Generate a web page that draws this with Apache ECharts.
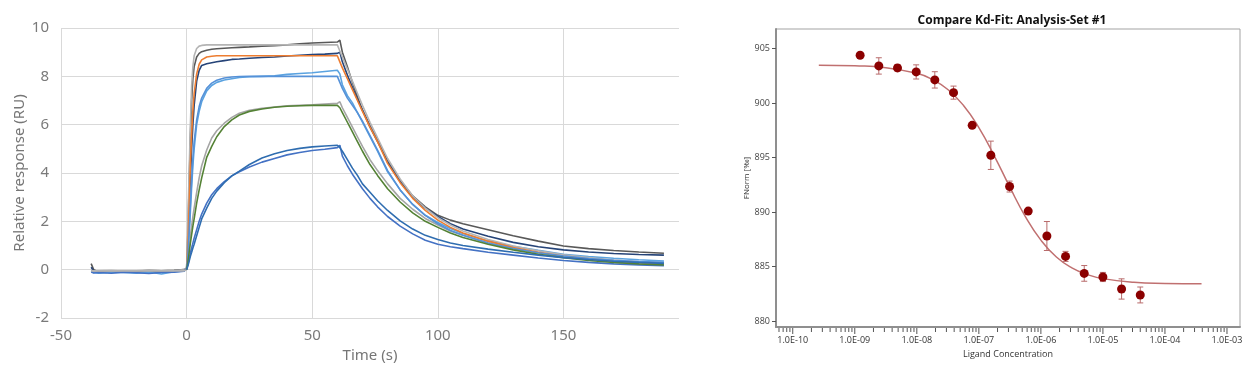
<!DOCTYPE html>
<html>
<head>
<meta charset="utf-8">
<script src="https://cdn.jsdelivr.net/npm/echarts@6/dist/echarts.min.js"></script>
<style>
html,body{margin:0;padding:0;background:#fff;}
#c{width:1251px;height:380px;}
</style>
</head>
<body>
<div id="c"></div>
<script>
// ---------- Left panel: SPR sensorgram ----------
const time = [-38,-37,-35,-30,-25,-20,-15,-10,-5,-1,
  0,0.5,1,1.5,2,2.5,3,4,5,6,8,10,12,15,18,21,25,30,35,40,45,50,55,60,
  61,62,64,66,68,70,73,76,80,85,90,95,100,105,110,120,130,140,150,160,170,180,190];
const N = null;
const darkGrayData = [0.25,0.0,-0.1,-0.08,-0.05,-0.06,-0.04,-0.05,-0.03,0.0,
  0.05,1.5,3.5,5.5,7.0,7.9,8.4,8.8,8.95,9.02,9.08,9.12,9.14,9.16,9.18,9.2,9.22,9.25,9.27,9.3,9.35,9.38,9.4,9.42,
  9.5,9.0,8.4,7.75,7.15,6.6,5.9,5.3,4.5,3.7,3.05,2.6,2.25,2.05,1.9,1.65,1.4,1.18,0.98,0.87,0.79,0.73,0.68];
const grayFitTop = [-0.05,-0.05,-0.05,-0.05,-0.05,-0.05,-0.05,-0.05,-0.05,-0.05,
  0.0,2.0,4.0,6.0,7.6,8.4,8.85,9.15,9.25,9.28,9.3,9.3,9.3,9.3,9.3,9.3,9.3,9.3,9.3,9.3,9.3,9.3,9.3,9.3,
  9.05,8.8,8.3,7.8,7.3,6.8,6.1,5.45,4.6,3.75,3.05,2.55,2.15,1.85,1.6,1.25,0.98,0.78,0.62,0.5,0.4,0.33,0.28];
const orangeFit = [N,N,N,N,N,N,N,N,N,N,
  0.0,1.0,2.6,4.4,5.6,6.6,7.3,8.1,8.5,8.68,8.8,8.83,8.85,8.85,8.85,8.85,8.85,8.85,8.85,8.85,8.85,8.85,8.85,8.85,
  8.6,8.35,7.9,7.45,7.0,6.55,5.9,5.3,4.4,3.6,2.95,2.45,2.05,1.75,1.52,1.18,0.92,0.72,0.55,0.44,0.35,0.29,0.25];
const navyData = [0.1,-0.05,-0.12,-0.1,-0.08,-0.1,-0.12,-0.08,-0.06,-0.02,
  0.05,0.8,2.2,3.8,5.0,6.0,6.8,7.8,8.25,8.45,8.52,8.56,8.6,8.65,8.7,8.72,8.75,8.78,8.8,8.84,8.87,8.9,8.92,8.95,
  9.0,8.6,8.05,7.55,7.05,6.6,5.95,5.35,4.45,3.65,3.0,2.55,2.2,1.9,1.68,1.38,1.13,0.95,0.82,0.73,0.67,0.63,0.6];
const lightBlueFit = [N,N,N,N,N,N,N,N,N,N,
  0.0,0.6,1.6,2.7,3.7,4.6,5.3,6.2,6.75,7.1,7.5,7.72,7.84,7.93,7.97,7.99,8.0,8.0,8.0,8.0,8.0,8.0,8.0,8.0,
  7.75,7.5,7.1,6.8,6.5,6.15,5.55,4.95,4.1,3.3,2.7,2.25,1.9,1.62,1.42,1.1,0.87,0.7,0.56,0.46,0.39,0.34,0.3];
const lightBlueData = [-0.05,-0.12,-0.15,-0.1,-0.12,-0.15,-0.1,-0.18,-0.08,-0.05,
  0.05,0.5,1.4,2.4,3.4,4.3,5.0,6.0,6.55,6.95,7.4,7.62,7.75,7.85,7.9,7.95,7.98,8.0,8.02,8.08,8.12,8.15,8.2,8.25,
  8.1,7.65,7.2,6.9,6.5,6.1,5.5,4.9,4.05,3.3,2.7,2.25,1.95,1.7,1.5,1.18,0.97,0.8,0.64,0.54,0.47,0.41,0.36];
const greenFit = [N,N,N,N,N,N,N,N,N,N,
  0.0,0.3,0.7,1.1,1.45,1.8,2.1,2.75,3.3,3.8,4.65,5.1,5.5,5.92,6.2,6.4,6.55,6.65,6.72,6.76,6.78,6.8,6.8,6.8,
  6.7,6.5,6.1,5.7,5.3,4.9,4.35,3.9,3.35,2.8,2.35,2.0,1.75,1.52,1.33,1.05,0.82,0.64,0.5,0.38,0.3,0.24,0.2];
const grayData = [-0.03,-0.06,-0.05,-0.04,-0.06,-0.05,-0.03,-0.05,-0.04,0.0,
  0.05,0.4,0.9,1.4,1.8,2.2,2.55,3.2,3.8,4.3,4.95,5.45,5.75,6.06,6.3,6.47,6.6,6.68,6.73,6.78,6.8,6.82,6.85,6.88,
  6.95,6.7,6.3,5.9,5.5,5.1,4.55,4.1,3.55,2.95,2.5,2.12,1.85,1.6,1.42,1.1,0.88,0.7,0.56,0.46,0.38,0.32,0.28];
const blueFit = [N,N,N,N,N,N,N,N,N,N,
  0.0,0.15,0.35,0.55,0.72,0.9,1.05,1.4,1.75,2.1,2.55,2.95,3.25,3.6,3.88,4.08,4.35,4.62,4.8,4.93,5.02,5.08,5.12,5.15,
  5.05,4.9,4.55,4.2,3.9,3.55,3.2,2.85,2.45,2.02,1.68,1.42,1.25,1.1,1.0,0.85,0.72,0.6,0.5,0.42,0.35,0.3,0.26];
const blueData = [-0.1,-0.14,-0.12,-0.15,-0.1,-0.13,-0.16,-0.12,-0.1,-0.06,
  0.05,0.2,0.45,0.7,0.9,1.1,1.3,1.65,2.0,2.3,2.75,3.1,3.35,3.64,3.88,4.05,4.25,4.45,4.6,4.75,4.85,4.93,4.98,5.05,
  5.15,4.7,4.3,3.95,3.65,3.35,2.95,2.6,2.2,1.8,1.48,1.22,1.05,0.95,0.87,0.72,0.6,0.48,0.38,0.3,0.24,0.2,0.16];
const xTicksLeft = [-50,0,50,100,150];

// ---------- Right panel: MST Kd fit ----------
const ligandConc = [1.22e-9,2.44e-9,4.88e-9,9.77e-9,1.95e-8,3.91e-8,7.81e-8,1.56e-7,3.13e-7,6.25e-7,1.25e-6,2.5e-6,5e-6,1e-5,2e-5,4e-5];
const fnorm = [904.39,903.41,903.23,902.86,902.13,900.96,897.96,895.21,892.34,890.09,887.80,885.93,884.37,884.04,882.94,882.39];
const fnormErr = [0,0.75,0.3,0.65,0.75,0.6,0,1.3,0.5,0,1.33,0.46,0.72,0.42,0.93,0.73];
const fitLogConc = [-9.58,-9,-8.5,-8,-7.75,-7.5,-7.25,-7,-6.75,-6.5,-6.25,-6,-5.75,-5.5,-5.25,-5,-4.5,-4,-3.41];
const fitFnorm = [903.48,903.42,903.25,902.73,902.17,901.25,899.80,897.75,895.14,892.28,889.59,887.42,885.87,884.87,884.26,883.89,883.56,883.45,883.41];
const yTicksRight = [880,885,890,895,900,905];
const decadeTicks = [-10,-9,-8,-7,-6,-5,-4,-3];

const X_MIN = -10.27, X_MAX = -2.79, Y_MIN = 879.45, Y_MAX = 906.8;
// log-axis tick marks: [position, isMajor]
const logTickMarks = [];
for (let n = -11; n <= -3; n++) for (let k = 1; k <= 9; k++) {
  const v = n + Math.log10(k);
  if (v > X_MIN && v < X_MAX) logTickMarks.push([v, k === 1 ? 1 : 0]);
}

const lineDefs = [
  [darkGrayData,'#595959'],
  [navyData,'#264478'],
  [lightBlueData,'#5BA3E0'],
  [grayData,'#A5A5A5'],
  [blueData,'#4472C4'],
  [grayFitTop,'#B4B4B4'],
  [orangeFit,'#ED7D31'],
  [lightBlueFit,'#5591D8'],
  [greenFit,'#548235'],
  [blueFit,'#2F6DB0']
];
const leftSeries = lineDefs.map(([arr,col]) => ({
  type:'line', xAxisIndex:0, yAxisIndex:0, showSymbol:false, symbol:'none',
  lineStyle:{color:col,width:1.6}, itemStyle:{color:col},
  data: time.map((t,i)=>[t,arr[i]]), animation:false
}));

const fmtE = v => {
  const a = Math.abs(Math.round(v));
  return '1.0E' + (v < 0 ? '-' : '+') + (a < 10 ? '0' + a : '' + a);
};
const errColor = '#B86B6B';
const FONT_L = 'Noto Sans';
const FONT_R = 'Open Sans';

const chart = echarts.init(document.getElementById('c'), null, {renderer:'canvas'});
chart.setOption({
  animation:false,
  title:{
    text:'Compare Kd-Fit: Analysis-Set #1', left:1007, top:10, textAlign:'center',
    textStyle:{fontSize:12, fontWeight:'bold', color:'#111', fontFamily:FONT_R}
  },
  grid:[
    {left:61, top:28, width:618, height:290},
    {left:776, top:29, width:464, height:298, show:true, borderColor:'#a3a3a3', borderWidth:1}
  ],
  xAxis:[
    {gridIndex:0, type:'value', min:-50, max:196, interval:50,
     name:'Time (s)', nameLocation:'middle', nameGap:30,
     nameTextStyle:{fontSize:15, color:'#767676', fontFamily:FONT_L},
     axisLine:{show:false}, axisTick:{show:false},
     axisLabel:{fontSize:15, color:'#7a7a7a', margin:10, fontFamily:FONT_L, showMaxLabel:false,
       formatter: v => xTicksLeft.includes(v) ? String(v) : ''},
     splitLine:{show:true, showMinLine:true, showMaxLine:false, lineStyle:{color:'#d9d9d9', width:1}}
    },
    {gridIndex:1, type:'value', position:'bottom', min:X_MIN, max:X_MAX,
     name:'Ligand Concentration', nameLocation:'middle', nameGap:22,
     nameTextStyle:{fontSize:9, color:'#333', fontFamily:FONT_R},
     axisLine:{show:true, onZero:false, lineStyle:{color:'#8f8f8f', width:2}},
     axisTick:{show:false},
     axisLabel:{show:true, customValues:decadeTicks, formatter:fmtE, fontSize:9, color:'#333', margin:9, fontFamily:FONT_R},
     splitLine:{show:false}
    }
  ],
  yAxis:[
    {gridIndex:0, type:'value', min:-2, max:10, interval:2,
     name:'Relative response (RU)', nameLocation:'middle', nameGap:34,
     nameTextStyle:{fontSize:15, color:'#767676', fontFamily:FONT_L},
     axisLine:{show:false}, axisTick:{show:false},
     axisLabel:{fontSize:15, color:'#7a7a7a', margin:12, fontFamily:FONT_L},
     splitLine:{show:true, lineStyle:{color:'#d9d9d9', width:1}}
    },
    {gridIndex:1, type:'value', min:Y_MIN, max:Y_MAX,
     name:'FNorm [‰]', nameLocation:'middle', nameGap:20,
     nameTextStyle:{fontSize:8, color:'#333', fontFamily:FONT_R},
     axisLine:{show:true, onZero:false, lineStyle:{color:'#8f8f8f', width:2}},
     axisTick:{show:true, customValues:yTicksRight, length:4, lineStyle:{color:'#555', width:1}},
     axisLabel:{show:true, customValues:yTicksRight, fontSize:9, color:'#444', margin:6, fontFamily:FONT_R},
     splitLine:{show:false}
    }
  ],
  series: leftSeries.concat([
    // log-scale tick marks below the concentration axis
    {type:'custom', xAxisIndex:1, yAxisIndex:1, z:1, clip:false, silent:true,
     data: logTickMarks,
     renderItem:(params, api) => {
       const p = api.coord([api.value(0), Y_MIN]);
       const len = api.value(1) ? 6 : 4;
       return {type:'line', shape:{x1:p[0],y1:p[1]+1,x2:p[0],y2:p[1]+1+len}, style:{stroke:'#555', lineWidth:1}};
     }
    },
    {type:'line', xAxisIndex:1, yAxisIndex:1, smooth:true, showSymbol:false, symbol:'none',
     lineStyle:{color:'#C07070', width:1.5},
     data: fitLogConc.map((x,i)=>[x,fitFnorm[i]]), z:2},
    {type:'custom', xAxisIndex:1, yAxisIndex:1, z:3,
     encode:{x:0,y:1},
     data: ligandConc.map((c,i)=>[Math.log10(c), fnorm[i], fnormErr[i]]),
     renderItem:(params, api) => {
       const x = api.value(0), y = api.value(1), e = api.value(2);
       if (!e) return {type:'group', children:[]};
       const top = api.coord([x, y+e]), bot = api.coord([x, y-e]);
       const hw = 3, st = {stroke:errColor, lineWidth:1};
       return {type:'group', children:[
         {type:'line', shape:{x1:top[0],y1:top[1],x2:bot[0],y2:bot[1]}, style:st},
         {type:'line', shape:{x1:top[0]-hw,y1:top[1],x2:top[0]+hw,y2:top[1]}, style:st},
         {type:'line', shape:{x1:bot[0]-hw,y1:bot[1],x2:bot[0]+hw,y2:bot[1]}, style:st}
       ]};
     }
    },
    {type:'scatter', xAxisIndex:1, yAxisIndex:1, symbol:'circle', symbolSize:9, z:4,
     itemStyle:{color:'#8B0000', opacity:1},
     data: ligandConc.map((c,i)=>[Math.log10(c), fnorm[i]])}
  ])
});
</script>
</body>
</html>
